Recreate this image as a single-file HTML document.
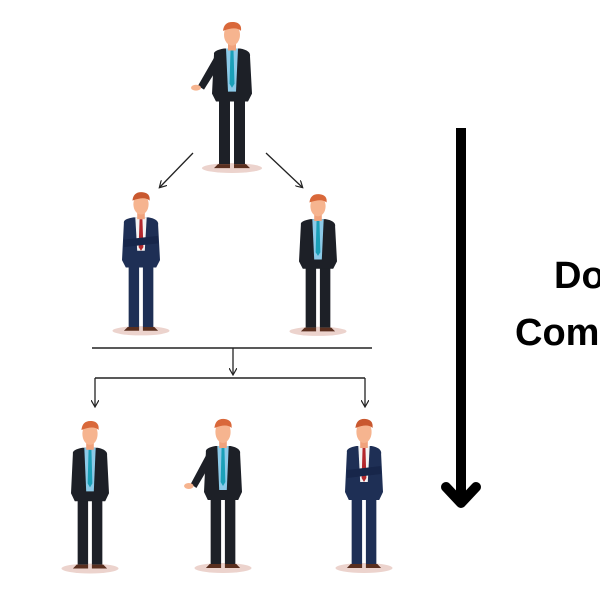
<!DOCTYPE html>
<html><head><style>html,body{margin:0;padding:0;background:#fff}svg{display:block}</style></head>
<body>
<svg width="600" height="600" viewBox="0 0 600 600" xmlns="http://www.w3.org/2000/svg">
<defs>
<g id="pd">
  <ellipse cx="0" cy="146" rx="30" ry="5" fill="#ecd3cd"/>
  <rect x="-13" y="72" width="11" height="70" fill="#1d2027"/>
  <rect x="2" y="72" width="11" height="70" fill="#1d2027"/>
  <path d="M-14 142 h12 v4 h-16z M2 142 h12 l4 4 h-16z" fill="#5a2f1f"/>
  <path d="M-18 30 Q-19 26 -8 24 L8 24 Q19 26 18 32 L20 70 L16 78 L-16 78 L-20 70 Z" fill="#1d2027"/>
  <path d="M-6 24 L6 24 L4 68 L-4 68 Z" fill="#8ccae8"/>
  <path d="M-1.5 26 L1.5 26 L2.5 60 L0 64 L-2.5 60 Z" fill="#1ba0b8"/>
  <rect x="-4" y="14" width="8" height="12" fill="#f0a27c"/>
  <ellipse cx="0" cy="10" rx="8" ry="11" fill="#f6b48f"/>
  <path d="M-9 6 Q-8 -4 2 -3 Q10 -2 9 6 Q4 1 -9 6Z" fill="#d9683a"/>
</g>
<g id="arm">
  <path d="M-16 30 L-34 62 L-28 66 L-12 40Z" fill="#1d2027"/>
  <ellipse cx="-36" cy="64" rx="5" ry="3" fill="#f6b48f"/>
</g>
<g id="pn">
  <ellipse cx="0" cy="146" rx="30" ry="5" fill="#ecd3cd"/>
  <rect x="-13" y="72" width="11" height="70" fill="#1e2f55"/>
  <rect x="2" y="72" width="11" height="70" fill="#1e2f55"/>
  <path d="M-14 142 h12 v4 h-16z M2 142 h12 l4 4 h-16z" fill="#5a2f1f"/>
  <path d="M-18 30 Q-19 26 -8 24 L8 24 Q19 26 18 32 L20 70 L16 78 L-16 78 L-20 70 Z" fill="#1e2f55"/>
  <path d="M-6 24 L6 24 L4 60 L-4 60 Z" fill="#f3f3f3"/>
  <path d="M-1.5 26 L1.5 26 L2.5 56 L0 60 L-2.5 56 Z" fill="#b3282d"/>
  <path d="M-18 48 L18 44 L18 52 L-18 56Z" fill="#17264a"/>
  <rect x="-4" y="14" width="8" height="12" fill="#f0a27c"/>
  <ellipse cx="0" cy="10" rx="8" ry="11" fill="#f6b48f"/>
  <path d="M-9 6 Q-8 -4 2 -3 Q10 -2 9 6 Q4 1 -9 6Z" fill="#c9582f"/>
</g>
<marker id="ah" markerWidth="8" markerHeight="8" refX="6" refY="4" orient="auto" markerUnits="userSpaceOnUse">
  <path d="M0 0 L7 4 L0 8" fill="none" stroke="#222" stroke-width="1.2"/>
</marker>
</defs>

<use href="#pd" transform="translate(232,25) scale(1,0.98)"/>
<use href="#arm" transform="translate(232,25) scale(1,0.98)"/>

<use href="#pn" transform="translate(141,195) scale(0.95,0.93)"/>
<use href="#pd" transform="translate(318,197) scale(0.95,0.92)"/>

<use href="#pd" transform="translate(90,424) scale(0.95,0.99)"/>
<use href="#pd" transform="translate(223,422) scale(0.95,1)"/>
<use href="#arm" transform="translate(223,422) scale(0.95,1)"/>
<use href="#pn" transform="translate(364,422) scale(0.95,1)"/>

<g stroke="#222" stroke-width="1.3" fill="none">
  <line x1="193" y1="153" x2="160" y2="187" marker-end="url(#ah)"/>
  <line x1="266" y1="153" x2="302" y2="187" marker-end="url(#ah)"/>
  <line x1="92" y1="348" x2="372" y2="348" stroke-width="1.6"/>
  <line x1="233" y1="348" x2="233" y2="374" marker-end="url(#ah)"/>
  <line x1="95" y1="378" x2="365" y2="378" stroke-width="1.6"/>
  <line x1="95" y1="378" x2="95" y2="406" marker-end="url(#ah)"/>
  <line x1="365" y1="378" x2="365" y2="406" marker-end="url(#ah)"/>
</g>

<line x1="461" y1="128" x2="461" y2="502" stroke="#000" stroke-width="10"/>
<path d="M446 487 L461 503 L476 487" fill="none" stroke="#000" stroke-width="10" stroke-linecap="round" stroke-linejoin="round"/>

<text x="554" y="288" font-family="Liberation Sans, sans-serif" font-weight="bold" font-size="38" fill="#000">Do</text>
<text x="515" y="345" font-family="Liberation Sans, sans-serif" font-weight="bold" font-size="38" fill="#000">Com</text>
</svg>
</body></html>
